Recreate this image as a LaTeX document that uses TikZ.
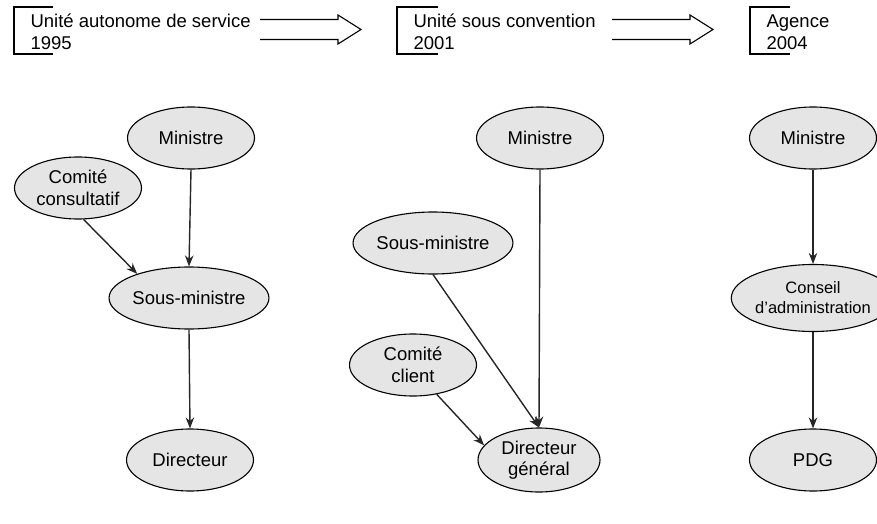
\documentclass[tikz,border=0pt]{standalone}
\usepackage{fontspec}
\setmainfont{Liberation Sans}
\usetikzlibrary{arrows.meta,shapes.geometric,calc}

\begin{document}
\begin{tikzpicture}[x=1pt,y=-1pt,line width=1.1pt,>={Stealth[length=11pt,width=8.5pt]},
  poste/.style={ellipse,draw,fill=black!10,minimum width=127pt,minimum height=62pt,
    inner sep=0pt,align=center,font=\fontsize{18.5}{21.5}\selectfont},
  etape/.style={anchor=base west,inner sep=0pt,align=left,font=\fontsize{18.5}{21.5}\selectfont},
  lien/.style={->,line width=1.4pt,black!85}]
  \useasboundingbox (0,0) rectangle (877,524);
  % ===================== etapes (en haut) =====================
  \node[etape] (etapeA) at (30,49.5){Unité autonome de service\\1995};
  \draw (53,7)--(14,7)--(14,54)--(53,54);
  \node[etape] (etapeB) at (413,49.5){Unité sous convention\\2001};
  \draw (438,7)--(397,7)--(397,54)--(438,54);
  \node[etape] (etapeC) at (766,49.5){Agence\\2004};
  \draw (790,7)--(750,7)--(750,54)--(790,54);
  % doubles fleches
  \coordinate (queueA) at (260,29.5); \coordinate (pointeA) at (361,29.5);
  \draw ($(queueA)+(0,-10)$)--($(pointeA)+(-23,-10)$)--($(pointeA)+(-23,-14.5)$)--(pointeA)
    --($(pointeA)+(-23,14.5)$)--($(pointeA)+(-23,10)$)--($(queueA)+(0,10)$);
  \coordinate (queueB) at (612,29.5); \coordinate (pointeB) at (713,29.5);
  \draw ($(queueB)+(0,-10)$)--($(pointeB)+(-23,-10)$)--($(pointeB)+(-23,-14.5)$)--(pointeB)
    --($(pointeB)+(-23,14.5)$)--($(pointeB)+(-23,10)$)--($(queueB)+(0,10)$);
  % ===================== 1995 =====================
  \node[poste] (ministreA) at (191,138){Ministre};
  \node[poste] (comiteA) at (78,188){Comité\\consultatif};
  \node[poste] (sousminA) at (189,298){Sous-ministre};
  \node[poste] (directeurA) at (190,460){Directeur};
  \draw[lien] (ministreA.south)--(sousminA.north);
  \draw[lien] (comiteA.-80)--(sousminA.155);
  \draw[lien] (sousminA.south)--(directeurA.north);
  % ===================== 2001 =====================
  \node[poste] (ministreB) at (540,138){Ministre};
  \node[poste] (sousminB) at (433,243){Sous-ministre};
  \node[poste] (comiteB) at (413,365){Comité\\client};
  \node[poste,minimum width=122pt,minimum height=64pt] (dirgenB) at (539,460){Directeur\\général};
  \draw[lien] (ministreB.south)--(dirgenB.north);
  \draw[lien] (sousminB.south)--(dirgenB.north);
  \draw[lien] (comiteB.-51)--(dirgenB.165);
  % ===================== 2004 =====================
  \node[poste] (ministreC) at (813,138){Ministre};
  \node[poste,minimum width=129pt,minimum height=67pt,font=\fontsize{16.5}{20}\selectfont] (conseilC) at (813,298){Conseil\\d’administration};
  \node[poste] (pdgC) at (813,460){PDG};
  \draw[lien] (ministreC.south)--(conseilC.north);
  \draw[lien] (conseilC.south)--(pdgC.north);
\end{tikzpicture}
\end{document}
